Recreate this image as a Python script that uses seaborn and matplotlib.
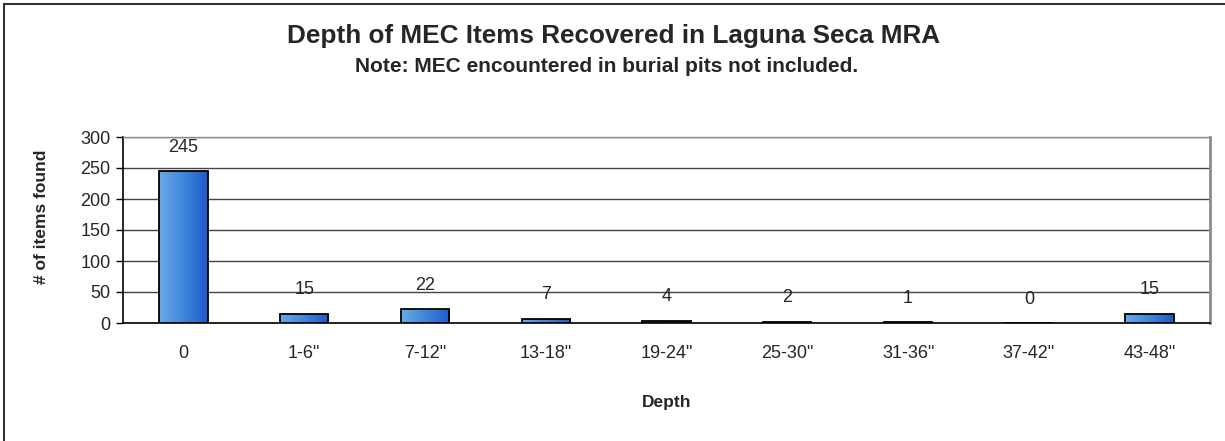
import matplotlib
matplotlib.use("Agg")
import matplotlib.pyplot as plt
import numpy as np
import pandas as pd
import seaborn as sns
from matplotlib.colors import LinearSegmentedColormap

# ── Data ──────────────────────────────────────────────────────────────────────
depths = ["0", '1-6"', '7-12"', '13-18"', '19-24"', '25-30"', '31-36"', '37-42"', '43-48"']
counts = [245, 15, 22, 7, 4, 2, 1, 0, 15]
y_ticks = [0, 50, 100, 150, 200, 250, 300]

title = "Depth of MEC Items Recovered in Laguna Seca MRA"
subtitle = "Note: MEC encountered in burial pits not included."

df = pd.DataFrame({"depth": depths, "count": counts})

# ── Style ─────────────────────────────────────────────────────────────────────
sns.set_style("white")
plt.rcParams["font.family"] = ["Liberation Sans", "DejaVu Sans"]

W, H = 1225, 441
fig = plt.figure(figsize=(W / 100, H / 100), dpi=100)
ax = fig.add_axes([123 / W, 1 - 323 / H, (1210 - 123) / W, (323 - 137) / H])

sns.barplot(data=df, x="depth", y="count", ax=ax, color="#4a8ee0",
            width=0.4, edgecolor="black", linewidth=1.3, zorder=3)

# gradient fill, clipped to each bar
grad = LinearSegmentedColormap.from_list("bar", ["#6aaae8", "#3f86dc", "#1c5cc8"])
g = np.linspace(0, 1, 64).reshape(1, -1)
for p in ax.patches:
    x0, y0 = p.get_x(), p.get_y()
    w, h = p.get_width(), p.get_height()
    if h <= 0:
        continue
    im = ax.imshow(g, cmap=grad, aspect="auto", extent=[x0, x0 + w, y0, y0 + h],
                   zorder=3.5, interpolation="bicubic")
    im.set_clip_path(p)
    p.set_facecolor("none")
    p.set_zorder(4)

ax.set_xlim(-0.5, len(depths) - 0.5)
ax.set_ylim(0, 300)
ax.set_yticks(y_ticks)
ax.yaxis.grid(True, color="#444444", linewidth=1.0, zorder=0)
ax.set_axisbelow(True)

for s in ["left", "bottom"]:
    ax.spines[s].set_color("black")
    ax.spines[s].set_linewidth(1.2)
ax.spines["right"].set_color("#8c8c8c")
ax.spines["right"].set_linewidth(2)
ax.spines["top"].set_color("#8c8c8c")
ax.spines["top"].set_linewidth(1.0)

ax.tick_params(axis="y", left=True, length=5, width=1, color="black", labelsize=13, pad=4)
ax.tick_params(axis="x", bottom=False, labelsize=13, pad=12)
ax.set_xlabel("")
ax.set_ylabel("")

for i, v in enumerate(counts):
    ax.annotate(str(v), (i, v), xytext=(0, 11), textcoords="offset points",
                ha="center", va="bottom", fontsize=13, zorder=5)

ax.text(0.5, -0.425, "Depth", transform=ax.transAxes, ha="center", va="center",
        fontsize=12.5, fontweight="bold")
fig.text(42 / W, 1 - 217 / H, "# of items found", rotation=90, ha="center",
         va="center", fontsize=12.5, fontweight="bold")

fig.text(614 / W, 1 - 43 / H, title, ha="center", va="baseline", fontsize=18.8,
         fontweight="bold")
fig.text(607 / W, 1 - 72 / H, subtitle, ha="center", va="baseline", fontsize=15,
         fontweight="bold")

# outer chart frame (left and top edges visible)
fig.add_artist(plt.Line2D([3.5 / W, 3.5 / W], [0, 1 - 4 / H], color="#333333",
                          linewidth=1.5, transform=fig.transFigure))
fig.add_artist(plt.Line2D([3.5 / W, 1], [1 - 4 / H, 1 - 4 / H], color="#333333",
                          linewidth=1.5, transform=fig.transFigure))

fig.savefig("out.png", dpi=100)
